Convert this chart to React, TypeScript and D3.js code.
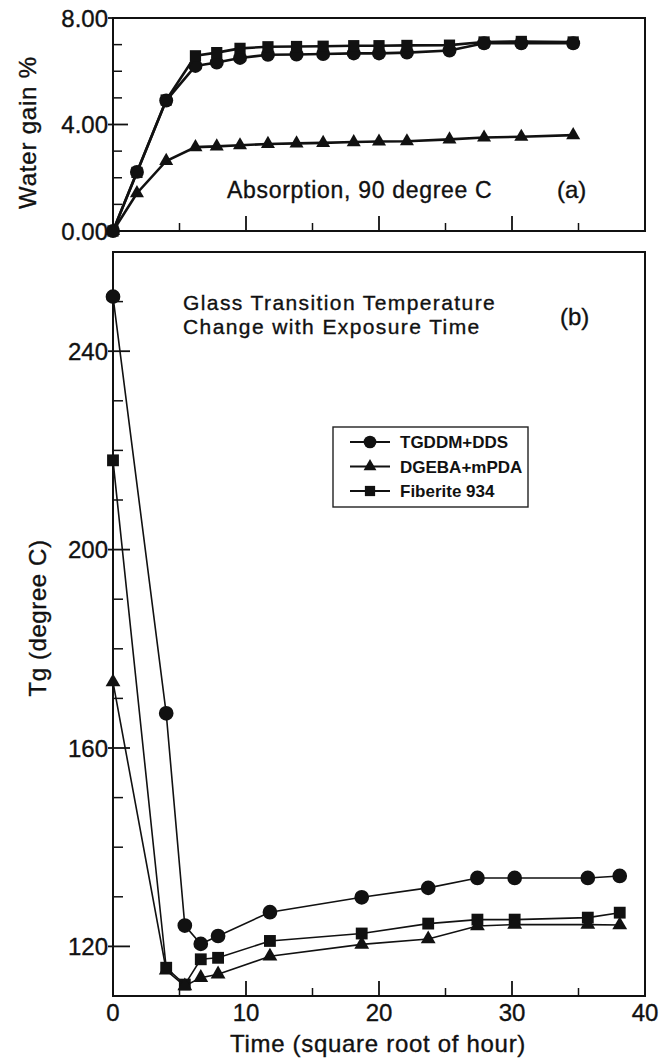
import React from "react";
import * as d3 from "d3";

// ---------- Data ----------
// Panel (a): water absorption at 90 °C
const timeA = [0, 1.8, 4.0, 6.2, 7.8, 9.55, 11.65, 13.8, 15.8, 18.1, 20.0, 22.1, 25.3, 27.9, 30.7, 34.6];
const tgddmA = [0, 2.22, 4.9, 6.2, 6.33, 6.5, 6.62, 6.63, 6.65, 6.67, 6.67, 6.7, 6.78, 7.05, 7.05, 7.05];
const fiberiteA = [0, 2.2, 4.92, 6.58, 6.7, 6.86, 6.92, 6.93, 6.94, 6.96, 6.96, 6.97, 6.98, 7.1, 7.12, 7.1];
const dgebaA = [0, 1.42, 2.63, 3.15, 3.18, 3.22, 3.27, 3.29, 3.31, 3.34, 3.36, 3.37, 3.44, 3.51, 3.54, 3.6];

// Panel (b): glass transition temperature
const timeB = [0, 4.0, 5.4, 6.6, 7.9, 11.8, 18.7, 23.7, 27.4, 30.2, 35.7, 38.1];
const tgddmB = [251, 167, 124.2, 120.5, 122.1, 126.9, 129.9, 131.8, 133.8, 133.8, 133.8, 134.2];
const fiberiteB = [218, 115.7, 112.3, 117.4, 117.7, 121.1, 122.6, 124.6, 125.4, 125.4, 125.8, 126.8];
const dgebaB = [173.3, 115.2, 112, 113.7, 114.4, 118, 120.4, 121.5, 124.1, 124.4, 124.4, 124.3];

const xTicksMajor = [0, 10, 20, 30, 40];
const xTicksMinor = [5, 15, 25, 35];
const yTicksA = [0, 4, 8];
const yTicksAMinor = [1, 2, 3, 5, 6, 7];
const yTicksB = [120, 160, 200, 240];
const yTicksBMinor = [130, 140, 150, 170, 180, 190, 210, 220, 230, 250];

const seriesNames = ["TGDDM+DDS", "DGEBA+mPDA", "Fiberite 934"];
const seriesShapes = ["circle", "triangle", "square"];

const FONT = "'Liberation Sans', Arial, Helvetica, sans-serif";

function symbolPath(shape: string, scale: number) {
  const t = shape === "circle" ? d3.symbolCircle : shape === "triangle" ? d3.symbolTriangle : d3.symbolSquare;
  const size = shape === "circle" ? 170 * scale : shape === "triangle" ? 95 * scale : 140 * scale;
  return d3.symbol().type(t).size(size)() as string;
}

export default function App() {
  const W = 662;
  const H = 1059;
  const left = 113;
  const right = 645;

  const x = d3.scaleLinear().domain([0, 40]).range([left, right]);
  const yA = d3.scaleLinear().domain([0, 8]).range([231, 18]);
  const yB = d3.scaleLinear().domain([110, 260]).range([996, 252]);

  const line = (ys: number[], xs: number[], yS: d3.ScaleLinear<number, number>) =>
    d3.line<number>().x((_, i) => x(xs[i])).y((d) => yS(d))(ys) as string;

  const seriesA = [
    { ys: tgddmA, shape: "circle" },
    { ys: fiberiteA, shape: "square" },
    { ys: dgebaA, shape: "triangle" },
  ];
  const seriesB = [
    { ys: tgddmB, shape: "circle" },
    { ys: fiberiteB, shape: "square" },
    { ys: dgebaB, shape: "triangle" },
  ];

  const panelA = { top: yA.range()[1], bottom: yA.range()[0] };
  const panelB = { top: yB.range()[1], bottom: yB.range()[0] };
  const txt = { fill: "#111", stroke: "#111", strokeWidth: 0.35 };

  return (
    <svg
      width={W}
      height={H}
      viewBox={`0 0 ${W} ${H}`}
      style={{ position: "absolute", left: 0, top: 0, background: "#fff" }}
      fontFamily={FONT}
    >
      <rect width={W} height={H} fill="#fff" />

      {/* ---------- Panel (a) ---------- */}
      <rect x={left} y={panelA.top} width={right - left} height={panelA.bottom - panelA.top} fill="none" stroke="#111" strokeWidth={2} />
      {yTicksA.map((t) => (
        <g key={"ya" + t}>
          <line x1={left - 5} x2={left + 15} y1={yA(t)} y2={yA(t)} stroke="#111" strokeWidth={1.8} />
          <text x={left - 5} y={yA(t)} dy="0.36em" textAnchor="end" fontSize={24} {...txt}>
            {t.toFixed(2)}
          </text>
        </g>
      ))}
      {yTicksAMinor.map((t) => (
        <line key={"yam" + t} x1={left} x2={left + 9} y1={yA(t)} y2={yA(t)} stroke="#111" strokeWidth={1.5} />
      ))}
      {[10, 20, 30].map((t) => (
        <line key={"xa" + t} x1={x(t)} x2={x(t)} y1={panelA.bottom} y2={panelA.bottom - 15} stroke="#111" strokeWidth={1.8} />
      ))}
      {xTicksMinor.map((t) => (
        <line key={"xam" + t} x1={x(t)} x2={x(t)} y1={panelA.bottom} y2={panelA.bottom - 8} stroke="#111" strokeWidth={1.5} />
      ))}
      <text transform={`translate(36,${(panelA.top + panelA.bottom) / 2 + 8}) rotate(-90)`} textAnchor="middle" fontSize={24} letterSpacing={0.8} {...txt}>
        Water gain %
      </text>
      <text x={227} y={198} fontSize={23} letterSpacing={0.7} {...txt}>Absorption, 90 degree C</text>
      <text x={557} y={198} fontSize={24} {...txt}>(a)</text>

      {seriesA.map((s, k) => (
        <g key={"sa" + k}>
          <path d={line(s.ys, timeA, yA)} fill="none" stroke="#111" strokeWidth={2.6} />
          {s.ys.map((v, i) => (
            <path key={i} d={symbolPath(s.shape, 0.9)} transform={`translate(${x(timeA[i])},${yA(v)})`} fill="#111" />
          ))}
        </g>
      ))}

      {/* ---------- Panel (b) ---------- */}
      <rect x={left} y={panelB.top} width={right - left} height={panelB.bottom - panelB.top} fill="none" stroke="#111" strokeWidth={2} />
      {yTicksB.map((t) => (
        <g key={"yb" + t}>
          <line x1={left - 5} x2={left + 17} y1={yB(t)} y2={yB(t)} stroke="#111" strokeWidth={1.8} />
          <text x={left - 5} y={yB(t)} dy="0.36em" textAnchor="end" fontSize={24} {...txt}>
            {t}
          </text>
        </g>
      ))}
      {yTicksBMinor.map((t) => (
        <line key={"ybm" + t} x1={left} x2={left + 10} y1={yB(t)} y2={yB(t)} stroke="#111" strokeWidth={1.5} />
      ))}
      {xTicksMajor.map((t) => (
        <g key={"xb" + t}>
          <line x1={x(t)} x2={x(t)} y1={panelB.bottom} y2={panelB.bottom - 15} stroke="#111" strokeWidth={1.8} />
          <text x={x(t)} y={panelB.bottom + 25} textAnchor="middle" fontSize={24} {...txt}>
            {t}
          </text>
        </g>
      ))}
      {xTicksMinor.map((t) => (
        <line key={"xbm" + t} x1={x(t)} x2={x(t)} y1={panelB.bottom} y2={panelB.bottom - 8} stroke="#111" strokeWidth={1.5} />
      ))}
      <text x={(left + right) / 2 - 1} y={1052} textAnchor="middle" fontSize={24} letterSpacing={0.7} {...txt}>
        Time (square root of hour)
      </text>
      <text transform={`translate(46,618) rotate(-90)`} textAnchor="middle" fontSize={24} letterSpacing={0.6} {...txt}>
        Tg (degree C)
      </text>
      <text x={183} y={310} fontSize={21} letterSpacing={1.4} {...txt}>Glass Transition Temperature</text>
      <text x={183} y={334} fontSize={21} letterSpacing={1.4} {...txt}>Change with Exposure Time</text>
      <text x={560} y={325} fontSize={24} {...txt}>(b)</text>

      {seriesB.map((s, k) => (
        <g key={"sb" + k}>
          <path d={line(s.ys, timeB, yB)} fill="none" stroke="#111" strokeWidth={1.6} />
          {s.ys.map((v, i) => (
            <path key={i} d={symbolPath(s.shape, 1)} transform={`translate(${x(timeB[i])},${yB(v)})`} fill="#111" />
          ))}
        </g>
      ))}

      {/* Legend */}
      <rect x={333} y={427} width={195} height={80} fill="#fff" stroke="#222" strokeWidth={1.4} />
      {seriesNames.map((n, i) => {
        const yy = 442 + i * 24.5;
        return (
          <g key={"lg" + i}>
            <line x1={350} x2={390} y1={yy} y2={yy} stroke="#111" strokeWidth={2} />
            <path d={symbolPath(seriesShapes[i], 0.75)} transform={`translate(370,${yy})`} fill="#111" />
            <text x={400} y={yy} dy="0.36em" fontSize={17} fontWeight="bold" fill="#111">
              {n}
            </text>
          </g>
        );
      })}
    </svg>
  );
}
